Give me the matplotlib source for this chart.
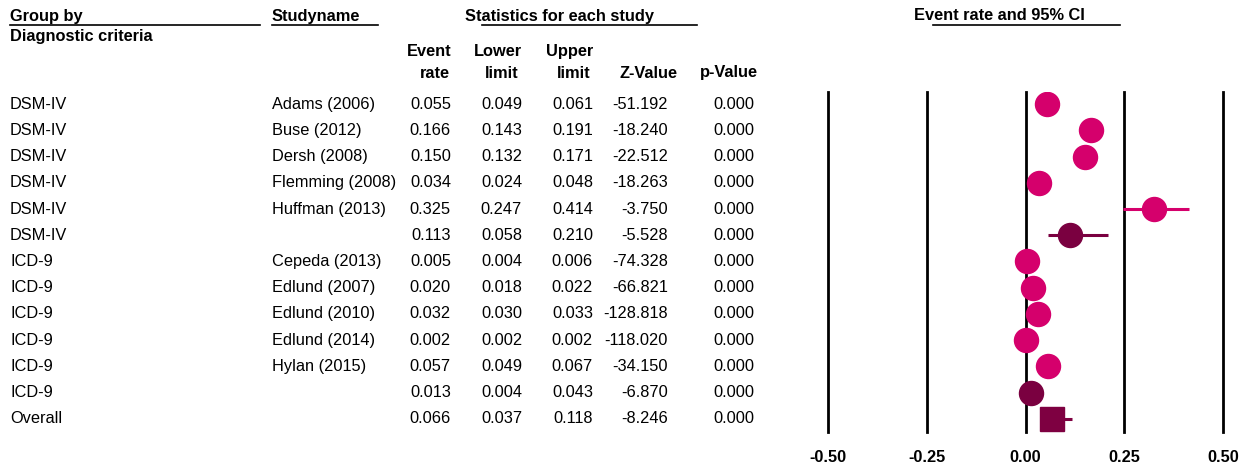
import matplotlib
matplotlib.use("Agg")
import matplotlib.pyplot as plt
from matplotlib import transforms
from matplotlib.lines import Line2D

plt.rcParams['font.family'] = ['Liberation Sans', 'DejaVu Sans']

groups = ["DSM-IV"] * 6 + ["ICD-9"] * 6 + ["Overall"]
studies = ["Adams (2006)", "Buse (2012)", "Dersh (2008)", "Flemming (2008)", "Huffman (2013)", "",
           "Cepeda (2013)", "Edlund (2007)", "Edlund (2010)", "Edlund (2014)", "Hylan (2015)", "", ""]
kinds = ["study"] * 5 + ["subgroup"] + ["study"] * 5 + ["subgroup"] + ["overall"]
rate = [0.055, 0.166, 0.150, 0.034, 0.325, 0.113, 0.005, 0.020, 0.032, 0.002, 0.057, 0.013, 0.066]
lower = [0.049, 0.143, 0.132, 0.024, 0.247, 0.058, 0.004, 0.018, 0.030, 0.002, 0.049, 0.004, 0.037]
upper = [0.061, 0.191, 0.171, 0.048, 0.414, 0.210, 0.006, 0.022, 0.033, 0.002, 0.067, 0.043, 0.118]
zval = [-51.192, -18.240, -22.512, -18.263, -3.750, -5.528, -74.328, -66.821, -128.818, -118.020,
        -34.150, -6.870, -8.246]
pval = [0.000] * 13
xticks = [-0.50, -0.25, 0.00, 0.25, 0.50]

W, H = 1250, 470
colors = {"study": "#D5006C", "subgroup": "#7A0040", "overall": "#7E0041"}
FS = 11.8

fig = plt.figure(figsize=(W / 100, H / 100), dpi=100)
ax = fig.add_axes([828 / W, 1 - 432 / H, 395 / W, 340 / H])

n = len(rate)
for i in range(n):
    c = colors[kinds[i]]
    ax.plot([lower[i], upper[i]], [i, i], color=c, lw=2.2, solid_capstyle="butt", zorder=3)
    if kinds[i] == "overall":
        ax.plot(rate[i], i, marker="s", ms=16.8, color=c, mec=c, zorder=4)
    else:
        ax.plot(rate[i], i, marker="o", ms=17.3, color=c, mec=c, zorder=4)

for t in xticks:
    ax.axvline(t, color="black", lw=2, zorder=1, clip_on=False)

ax.set_xlim(-0.5, 0.5)
ax.set_ylim(n - 0.5, -0.46)
for s in ax.spines.values():
    s.set_visible(False)
ax.set_yticks([])
ax.set_xticks(xticks)
ax.set_xticklabels([f"{t:.2f}" for t in xticks], fontweight="bold", fontsize=FS)
ax.tick_params(axis="x", length=0, pad=13)
ax.patch.set_visible(False)


def px(x, y):
    return x / W, 1 - y / H


# headers
def header(x, y, s, **kw):
    fig.text(*px(x, y), s, fontsize=FS, fontweight="bold", va="center", **kw)


def uline(x0, x1, y):
    fig.add_artist(Line2D([x0 / W, x1 / W], [1 - y / H, 1 - y / H], color="black", lw=1.2))


header(10, 16, "Group by")
uline(10, 260, 25)
header(10, 36, "Diagnostic criteria")
header(272, 16, "Studyname")
uline(272, 378, 25)
header(465, 16, "Statistics for each study")
uline(482, 697, 25)
header(914, 16, "Event rate and 95% CI")
uline(933, 1120, 25)

cols_right = [451, 522, 593, 668, 754]
header(cols_right[0], 52, "Event", ha="right")
header(cols_right[0] - 1, 73, "rate", ha="right")
header(cols_right[1], 52, "Lower", ha="right")
header(cols_right[1] - 3, 73, "limit", ha="right")
header(cols_right[2], 52, "Upper", ha="right")
header(cols_right[2] - 3, 73, "limit", ha="right")
header(cols_right[3] + 9, 73, "Z-Value", ha="right")
header(cols_right[4] + 4, 73, "p-Value", ha="right")

# table rows tied to the plot rows
tr = transforms.blended_transform_factory(fig.transFigure, ax.transData)
for i in range(n):
    fig.text(10 / W, i, groups[i], transform=tr, fontsize=FS, va="center")
    fig.text(272 / W, i, studies[i], transform=tr, fontsize=FS, va="center")
    vals = [f"{rate[i]:.3f}", f"{lower[i]:.3f}", f"{upper[i]:.3f}", f"{zval[i]:.3f}", f"{pval[i]:.3f}"]
    for xr, v in zip(cols_right, vals):
        fig.text(xr / W, i, v, transform=tr, fontsize=FS, va="center", ha="right")

fig.savefig("out.png", dpi=100)
